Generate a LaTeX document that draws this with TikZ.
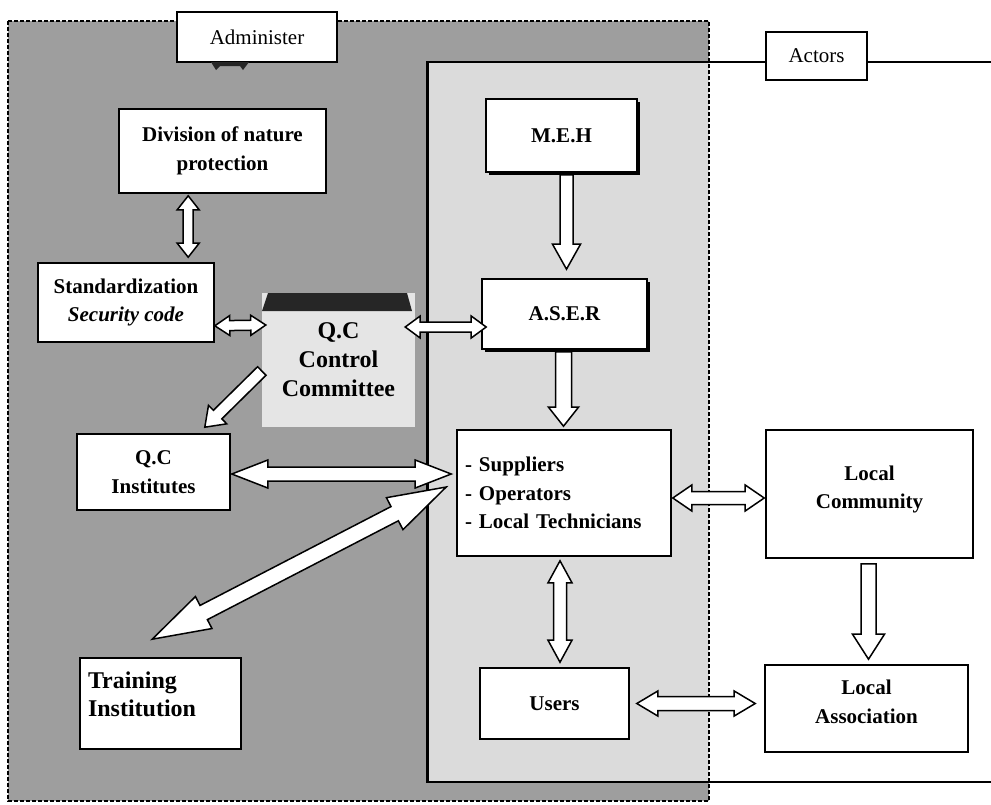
\documentclass[tikz,border=0pt]{standalone}
\usepackage{fontspec}
\setmainfont{Liberation Serif}
\usetikzlibrary{calc,shadows}
\tikzset{
  box/.style={draw, line width=1.6pt, fill=white, inner sep=2pt, align=center,
    font=\fontsize{21}{28.5}\selectfont\bfseries},
  tagbox/.style={draw, line width=1.2pt, fill=white, inner sep=2pt,
    font=\fontsize{21}{26}\selectfont},
  shadowed/.style={drop shadow={shadow xshift=2.5pt, shadow yshift=-2.5pt, opacity=1, fill=black}},
  barrow/.style={draw, line width=1.5pt, fill=white, line join=miter, miter limit=6},
  dashborder/.style={draw, line width=1.3pt, dash pattern=on 4pt off 2pt},
}
% double block arrow: #1,#2 named coordinates, #3 shaft half width, #4 head half width, #5 head length
\newcommand\dbarrow[5]{%
  \draw[barrow] let \p1=($(#2)-(#1)$), \n1={atan2(\y1,\x1)} in
    (#1) -- ($(#1)+(\n1:#5)+(\n1+90:#4)$) -- ($(#1)+(\n1:#5)+(\n1+90:#3)$)
    -- ($(#2)+(\n1:-#5)+(\n1+90:#3)$) -- ($(#2)+(\n1:-#5)+(\n1+90:#4)$) -- (#2)
    -- ($(#2)+(\n1:-#5)+(\n1-90:#4)$) -- ($(#2)+(\n1:-#5)+(\n1-90:#3)$)
    -- ($(#1)+(\n1:#5)+(\n1-90:#3)$) -- ($(#1)+(\n1:#5)+(\n1-90:#4)$) -- cycle;}
% single block arrow
\newcommand\sgarrow[5]{%
  \draw[barrow] let \p1=($(#2)-(#1)$), \n1={atan2(\y1,\x1)} in
    ($(#1)+(\n1+90:#3)$)
    -- ($(#2)+(\n1:-#5)+(\n1+90:#3)$) -- ($(#2)+(\n1:-#5)+(\n1+90:#4)$) -- (#2)
    -- ($(#2)+(\n1:-#5)+(\n1-90:#4)$) -- ($(#2)+(\n1:-#5)+(\n1-90:#3)$)
    -- ($(#1)+(\n1-90:#3)$) -- cycle;}
\begin{document}
\begin{tikzpicture}[x=1pt,y=-1pt]
\useasboundingbox (0,0) rectangle (991,804);
\fill[white] (0,0) rectangle (991,804);
% shaded regions
\fill[black!38] (8,21) rectangle (709,801);
\fill[black!14] (427,62) rectangle (709,782);
\draw[dashborder] (8,21) rectangle (709,801);

% header tags
\node[tagbox, minimum width=160pt, minimum height=50pt] (admin) at (257,37) {Administer};
\fill[black!85] (211,62) -- (249,62) -- (243,70) -- (240,66) -- (220,66) -- (216,70) -- cycle;
\node[tagbox, minimum width=101pt, minimum height=48pt] (actors) at (816.5,56) {Actors};

% actors frame
\draw[line width=1.2pt] ($(actors.west)+(0,6)$) -- (709,62);
\draw[line width=1.2pt] ($(actors.east)+(0,6)$) -- (991,62);
\draw[line width=2.2pt] (709,62) -- (427,62);
\draw[line width=3pt] (427,61) -- (427,783);
\draw[line width=2pt] (427,782) -- (991,782);

% Q.C control committee
\fill[black!10] (262,293) rectangle (415,427);
\fill[black!85] (268,293) -- (407,293) -- (412,311) -- (262,311) -- cycle;
\node[align=center, inner sep=0pt, minimum width=153pt, minimum height=134pt,
  font=\fontsize{24}{29}\selectfont\bfseries] (qcc) at (338.5,360)
  {\mbox{}\\[-13pt]Q.C\\Control\\Committee};

% boxes
\node[box, minimum width=207pt, minimum height=84pt] (div) at (222.5,151) {Division of nature\\protection};
\node[box, minimum width=176pt, minimum height=79pt] (std) at (126,302.5) {Standardization\\\textit{Security code}};
\node[box, shadowed, minimum width=151pt, minimum height=73pt] (meh) at (561.5,135.5) {M.E.H};
\node[box, shadowed, minimum width=165pt, minimum height=70pt] (aser) at (564.5,314) {A.S.E.R};
\node[box, minimum width=153pt, minimum height=76pt] (qci) at (153.5,472) {Q.C\\Institutes};
\node[box, minimum width=214pt, minimum height=126pt, text width=198pt, align=left, inner xsep=8pt] (sup) at (564,493)
  {- Suppliers\\- Operators\\- Local Technicians};
\node[box, minimum width=207pt, minimum height=128pt] (lc) at (869.5,494) {Local\\Community\\[-15pt]\mbox{}};
\node[box, minimum width=203pt, minimum height=87pt] (la) at (866.5,708.5) {Local\\Association\\[-15pt]\mbox{}};
\node[box, minimum width=149pt, minimum height=71pt] (users) at (554.5,703.5) {Users};
\node[box, minimum width=161pt, minimum height=91pt, text width=145pt, align=left, inner xsep=8pt,
  font=\fontsize{24}{28}\selectfont\bfseries] (train) at (160.5,703.5) {Training\\Institution\\[-10pt]\mbox{}};

% connector end points
\coordinate (d1) at ($(div.south west)+(70,2)$);
\coordinate (s1) at ($(std.north west)+(151,-5)$);
\coordinate (s2) at ($(std.south east)+(0,-17)$);
\coordinate (q2) at ($(qcc.west)+(4,-35)$);
\coordinate (q3) at ($(qcc.east)+(-10,-33)$);
\coordinate (a3) at ($(aser.west)+(5,13)$);
\coordinate (m4) at ($(meh.south)+(5,2)$);
\coordinate (a4) at ($(aser.north)+(2,-9)$);
\coordinate (a5) at ($(aser.south)+(-1,2)$);
\coordinate (p5) at ($(sup.north)+(-0.5,-3)$);
\coordinate (c6) at ($(qcc.west)+(0,11)$);
\coordinate (i6) at ($(qci.north east)+(-26,-6)$);
\coordinate (i7) at ($(qci.east)+(1,2)$);
\coordinate (p7) at ($(sup.west)+(-5,-19)$);
\coordinate (t8) at ($(train.north west)+(73,-18)$);
\coordinate (p8) at ($(sup.west)+(-10,-6)$);
\coordinate (p9) at ($(sup.east)+(1,5)$);
\coordinate (l9) at ($(lc.west)+(-1,4)$);
\coordinate (u10) at ($(users.east)+(7,0)$);
\coordinate (l10) at ($(la.west)+(-9,-5)$);
\coordinate (p11) at ($(sup.south)+(-4,4)$);
\coordinate (u11) at ($(users.north)+(5.5,-5)$);
\coordinate (l12) at ($(lc.south)+(-1,5)$);
\coordinate (a12) at ($(la.north)+(2,-5)$);

% connectors
\dbarrow{d1}{s1}{5pt}{11pt}{14pt}
\dbarrow{s2}{q2}{5pt}{10pt}{15pt}
\dbarrow{q3}{a3}{5pt}{11pt}{15pt}
\sgarrow{m4}{a4}{6.5pt}{14pt}{25pt}
\sgarrow{a5}{p5}{8pt}{15pt}{19pt}
\sgarrow{c6}{i6}{6pt}{13pt}{18pt}
\dbarrow{i7}{p7}{7pt}{14pt}{36pt}
\dbarrow{t8}{p8}{8pt}{18pt}{58pt}
\dbarrow{p9}{l9}{6.5pt}{13pt}{19pt}
\dbarrow{u10}{l10}{7pt}{12.5pt}{21pt}
\dbarrow{p11}{u11}{6.5pt}{12pt}{22pt}
\sgarrow{l12}{a12}{7.5pt}{16pt}{25pt}
\end{tikzpicture}
\end{document}
